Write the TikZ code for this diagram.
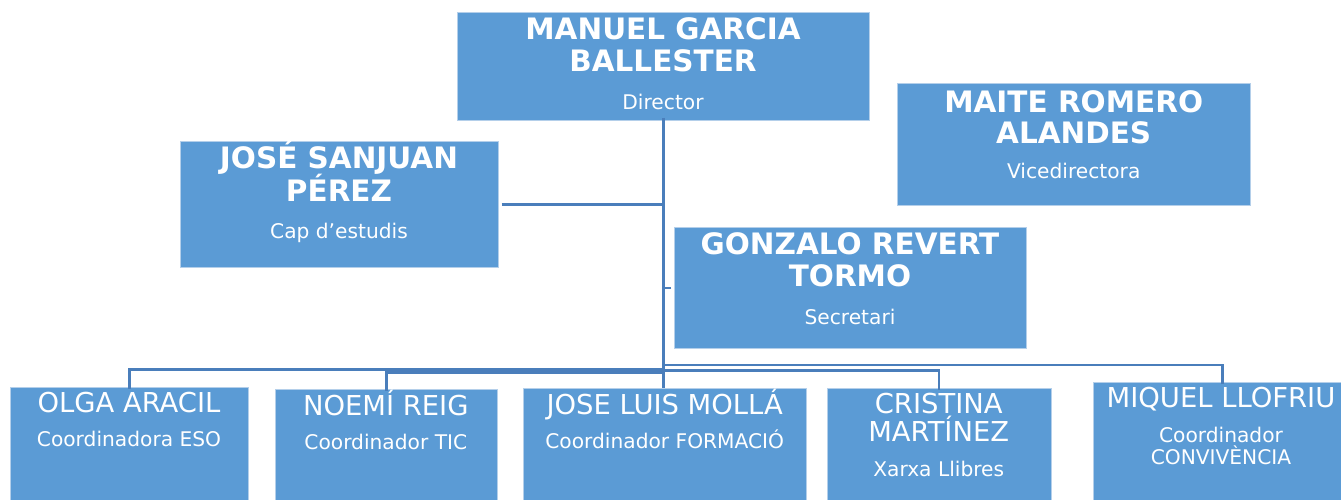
\documentclass[tikz,border=0pt]{standalone}
\usepackage{fontspec}
\setmainfont{DejaVu Sans}
\definecolor{boxblue}{HTML}{5B9BD5}
\definecolor{boxedge}{HTML}{B4CFEA}
\definecolor{linkblue}{HTML}{4A7EBB}
\begin{document}
\begin{tikzpicture}[x=1pt,y=-1pt,
  card/.style={rectangle, fill=boxblue, draw=boxedge, line width=0.8pt, anchor=north west, inner sep=0pt},
  bigtxt/.style={anchor=base, text=white, font=\fontsize{29.5}{32}\selectfont\bfseries, inner sep=0pt},
  nametxt/.style={anchor=base, text=white, font=\fontsize{27.4}{29}\selectfont, inner sep=0pt},
  roletxt/.style={anchor=base, text=white, font=\fontsize{20.2}{22}\selectfont, inner sep=0pt},
  link/.style={draw=linkblue, line width=2.6pt}]
\clip (0,0) rectangle (1341,500);
\fill[white] (0,0) rectangle (1341,500);

% boxes
\node[card, minimum width=412.6, minimum height=108.3] (dir) at (456.7,11.7) {};
\node[card, minimum width=352.7, minimum height=121.7] (mai) at (897.3,83.3) {};
\node[card, minimum width=318.3, minimum height=125.7] (jos) at (180,141) {};
\node[card, minimum width=352, minimum height=121.6] (gon) at (674,226.7) {};
\node[card, minimum width=238.3, minimum height=130] (olg) at (10,386.7) {};
\node[card, minimum width=221.7, minimum height=130] (noe) at (275,389.3) {};
\node[card, minimum width=282.7, minimum height=130] (jlm) at (523.3,388.3) {};
\node[card, minimum width=224, minimum height=130] (cri) at (826.7,387.7) {};
\node[card, minimum width=258.3, minimum height=130] (miq) at (1092.7,382.3) {};

% texts
\node[bigtxt] (dir1) at (663,40) {MANUEL GARCIA};
\node[bigtxt] (dir2) at (663,71.7) {BALLESTER};
\node[roletxt] (dir3) at (663,109.3) {Director};

\node[bigtxt] (mai1) at (1073.7,112.7) {MAITE ROMERO};
\node[bigtxt] (mai2) at (1073.7,144) {ALANDES};
\node[roletxt] (mai3) at (1073.7,178.3) {Vicedirectora};

\node[bigtxt] (jos1) at (339,168.3) {JOSÉ SANJUAN};
\node[bigtxt] (jos2) at (339,201.7) {PÉREZ};
\node[roletxt] (jos3) at (339,238.3) {Cap d’estudis};

\node[bigtxt] (gon1) at (850,254.3) {GONZALO REVERT};
\node[bigtxt] (gon2) at (850,286.7) {TORMO};
\node[roletxt] (gon3) at (850,324.3) {Secretari};

\node[nametxt] (olg1) at (129,412.3) {OLGA ARACIL};
\node[roletxt] (olg2) at (129,446.7) {Coordinadora ESO};

\node[nametxt] (noe1) at (385.8,415) {NOEMÍ REIG};
\node[roletxt] (noe2) at (385.8,449.3) {Coordinador TIC};

\node[nametxt] (jlm1) at (664.7,414.3) {JOSE LUIS MOLLÁ};
\node[roletxt] (jlm2) at (664.7,448.7) {Coordinador FORMACIÓ};

\node[nametxt] (cri1) at (938.7,413.3) {CRISTINA};
\node[nametxt] (cri2) at (938.7,441.7) {MARTÍNEZ};
\node[roletxt] (cri3) at (938.7,476.7) {Xarxa Llibres};

\node[nametxt] (miq1) at (1221,407.3) {MIQUEL LLOFRIU};
\node[roletxt] (miq2) at (1221,442.7) {Coordinador};
\node[roletxt] (miq3) at (1221,464) {CONVIVÈNCIA};

% connectors
\coordinate (top) at ([yshift=3]dir.south);
\coordinate (jolft) at ([xshift=2.5]jos.east);
\coordinate (gonl) at ([xshift=-3]gon.west);
\coordinate (bolg) at (top |- 0,369.3);
\coordinate (bnoe) at (top |- 0,372.7);
\coordinate (bcri) at (top |- 0,370.7);
\coordinate (bmiq) at (top |- 0,365);

\draw[link] (top) -- (top |- jlm.north);
\draw[link] (jolft) -- (jolft -| top);
\draw[link] (gonl) -- (gonl -| top);
\draw[link] (bolg) -| ([yshift=-2]olg.north);
\draw[link] (bnoe) -| ([yshift=-2]noe.north);
\draw[link] (bcri) -| ([yshift=-2]cri.north);
\draw[link] (bmiq) -| ([yshift=-2]miq.north);
\end{tikzpicture}
\end{document}
